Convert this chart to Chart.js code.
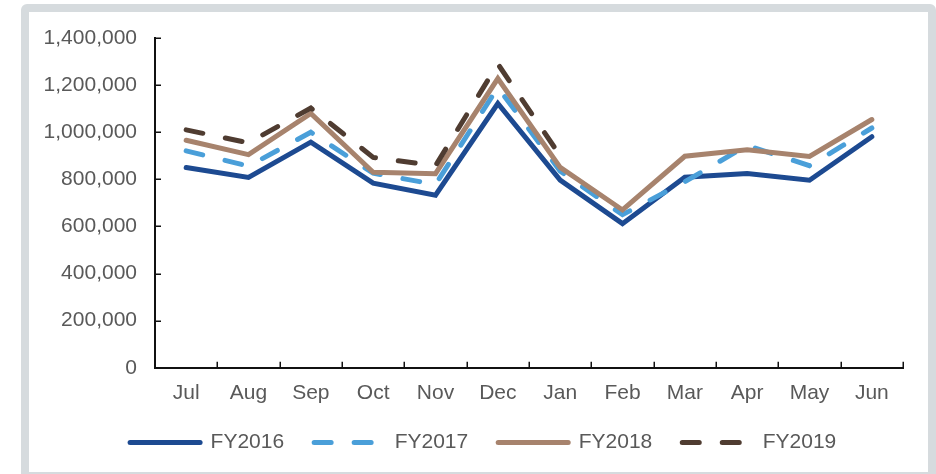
<!DOCTYPE html>
<html>
<head>
<meta charset="utf-8">
<script src="https://cdn.jsdelivr.net/npm/chart.js@4/dist/chart.umd.min.js"></script>
<style>
  html, body { margin: 0; padding: 0; background: #ffffff; overflow: hidden; }
  body { width: 936px; height: 474px; position: relative; }
  #frame {
    position: absolute; left: 21px; top: 4px;
    width: 915px; height: 476px; box-sizing: border-box;
    border: 8px solid #d6dbde; border-radius: 6px; background: #ffffff;
  }
  #c { display: block; }
</style>
</head>
<body>
<div id="frame"><canvas id="c" width="899" height="460"></canvas></div>
<script>
const months = ['Jul', 'Aug', 'Sep', 'Oct', 'Nov', 'Dec', 'Jan', 'Feb', 'Mar', 'Apr', 'May', 'Jun'];
const seriesNames = ['FY2016', 'FY2017', 'FY2018', 'FY2019'];
const fy2016 = [850000, 808000, 958000, 784000, 733000, 1122000, 797000, 612000, 809000, 825000, 796000, 981000];
const fy2017 = [921000, 856000, 1000000, 826000, 778000, 1190000, 835000, 650000, 790000, 944000, 858000, 1018000];
const fy2018 = [966000, 905000, 1080000, 830000, 824000, 1228000, 851000, 670000, 898000, 926000, 897000, 1054000];
const fy2019 = [1010000, 955000, 1103000, 893000, 858000, 1290000, 900000];
const yTickMin = 0;
const yTickMax = 1400000;
const yTickStep = 200000;

const FONT = '"Liberation Sans", Arial, sans-serif';
const TEXT = '#595959';

const innerTicks = {
  id: 'innerTicks',
  afterDraw(chart) {
    const { ctx, chartArea, scales } = chart;
    const x = scales.x, y = scales.y;
    ctx.save();
    ctx.strokeStyle = '#111111';
    ctx.lineWidth = 1.5;
    ctx.beginPath();
    y.ticks.forEach((t, i) => {
      const py = Math.round(y.getPixelForTick(i)) + 0.25;
      ctx.moveTo(chartArea.left, py);
      ctx.lineTo(chartArea.left + 6, py);
    });
    for (let i = 1; i <= x.ticks.length; i++) {
      const px = Math.round(x.getPixelForValue(i - 0.5)) + 0.25;
      ctx.moveTo(px, chartArea.bottom);
      ctx.lineTo(px, chartArea.bottom - 6);
    }
    ctx.stroke();
    ctx.restore();
  }
};

const legendNudge = {
  id: 'legendNudge',
  afterLayout(chart) {
    const lg = chart.legend;
    if (lg) { lg.top -= 4; lg.bottom -= 4; }
  }
};

function ds(label, data, color, dash, order) {
  return {
    label, data,
    borderColor: color, backgroundColor: color,
    borderWidth: 5, borderDash: dash, borderCapStyle: 'round', borderJoinStyle: 'miter',
    pointRadius: 0, pointHoverRadius: 0, tension: 0, fill: false, order
  };
}

new Chart(document.getElementById('c'), {
  type: 'line',
  data: {
    labels: months,
    datasets: [
      ds(seriesNames[0], fy2016, '#1d4a91', [], 3),
      ds(seriesNames[1], fy2017, '#4a9fd9', [17, 23], 2),
      ds(seriesNames[2], fy2018, '#a7836d', [], 1),
      ds(seriesNames[3], fy2019, '#4f3c31', [17, 23], 0)
    ]
  },
  options: {
    responsive: false,
    animation: false,
    devicePixelRatio: 1,
    layout: { padding: { left: 14, right: 4.6, top: 26, bottom: 5 } },
    plugins: {
      tooltip: { enabled: false },
      legend: {
        position: 'bottom',
        labels: {
          usePointStyle: true,
          pointStyle: 'line',
          pointStyleWidth: 70,
          padding: 30,
          color: TEXT,
          font: { family: FONT, size: 21 },
          sort: (a, b) => a.datasetIndex - b.datasetIndex,
          generateLabels(chart) {
            const items = Chart.defaults.plugins.legend.labels.generateLabels(chart);
            items.forEach(it => {
              const d = chart.data.datasets[it.datasetIndex];
              it.lineDash = d.borderDash;
              it.lineWidth = d.borderWidth;
              it.lineCap = 'round';
              it.strokeStyle = d.borderColor;
              it.pointStyle = 'line';
            });
            return items;
          }
        }
      }
    },
    scales: {
      x: {
        type: 'category',
        offset: true,
        grid: { display: false, drawTicks: true, tickLength: 13, offset: true },
        border: { display: true, color: '#111111', width: 2 },
        ticks: { color: TEXT, font: { family: FONT, size: 21 }, padding: 0, maxRotation: 0, autoSkip: false }
      },
      y: {
        min: yTickMin, max: yTickMax,
        grid: { display: false, drawTicks: true, tickLength: 5 },
        border: { display: true, color: '#111111', width: 2 },
        ticks: {
          stepSize: yTickStep, color: TEXT, font: { family: FONT, size: 21 }, padding: 13,
          callback: v => Number(v).toLocaleString('en-US')
        },
        afterFit(scale) { scale.width = 112; }
      },
      y2: {
        position: 'right',
        display: true,
        grid: { display: false, drawTicks: false },
        border: { display: false },
        ticks: { display: false },
        afterFit(scale) { scale.width = 20.4; }
      }
    }
  },
  plugins: [innerTicks, legendNudge]
});
</script>
</body>
</html>
